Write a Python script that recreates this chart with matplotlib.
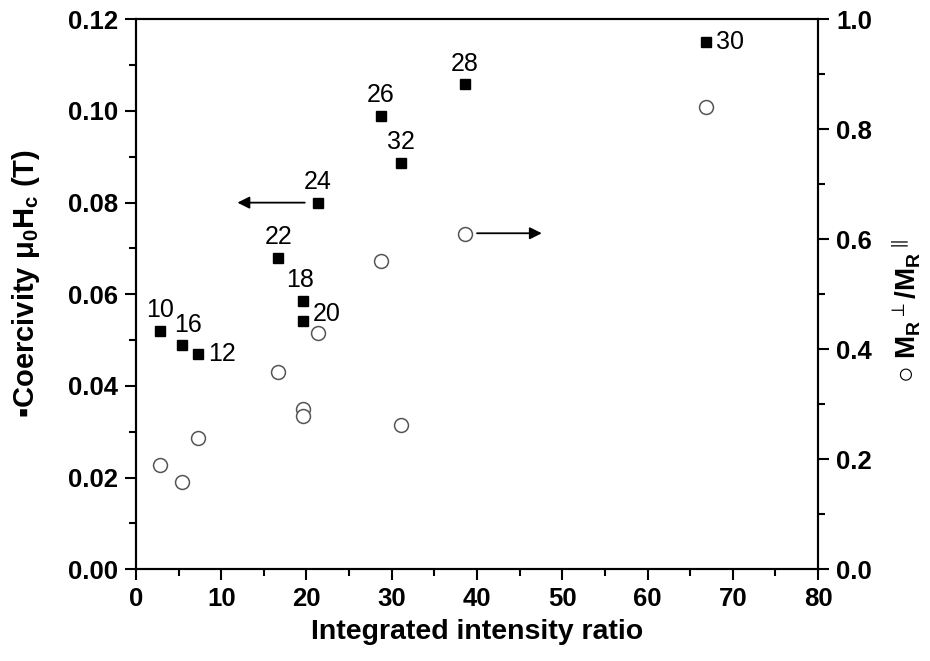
import matplotlib
matplotlib.use("Agg")
import matplotlib.pyplot as plt
from matplotlib.ticker import MultipleLocator

plt.rcParams['font.family'] = ['Liberation Sans', 'DejaVu Sans']
plt.rcParams['mathtext.default'] = 'regular'

# sample labels and integrated intensity ratio
samples = ['10', '16', '12', '22', '18', '20', '24', '26', '32', '28', '30']
ratio = [2.85, 5.4, 7.3, 16.7, 19.6, 19.6, 21.3, 28.7, 31.1, 38.6, 66.9]
# coercivity (T), left axis
hc = [0.052, 0.049, 0.047, 0.068, 0.0586, 0.0542, 0.080, 0.0989, 0.0887, 0.1058, 0.1151]
# remanence ratio, right axis
mr = [0.189, 0.159, 0.239, 0.359, 0.291, 0.279, 0.430, 0.560, 0.262, 0.610, 0.841]

# label offsets in points (dx, dy) for each sample number
label_dx = [0, 4, 17, 0, -2, 17, 0, 0, 0, 0, 17]
label_dy = [15, 14, 0, 15, 15, 5, 15, 15, 15, 15, 0]

fig = plt.figure(figsize=(9.3, 6.61), dpi=100)
ax = fig.add_axes([0.1462, 0.1387, 0.7334, 0.8321])
ax2 = ax.twinx()

ax.plot(ratio, hc, linestyle='none', marker='s', markersize=7.5,
        color='black', zorder=3)
ax2.plot(ratio, mr, linestyle='none', marker='o', markersize=10,
         markerfacecolor='white', markeredgecolor='#555555',
         markeredgewidth=1.1, zorder=3)

for s, x, y, dx, dy in zip(samples, ratio, hc, label_dx, label_dy):
    ax.annotate(s, (x, y), xytext=(dx, dy), textcoords='offset points',
                ha='center', va='center', fontsize=18)

# arrows pointing to the relevant axis
ax.annotate('', xy=(11.9, 0.080), xytext=(19.8, 0.080),
            arrowprops=dict(arrowstyle='-|>', color='black', lw=1.3,
                            mutation_scale=18, shrinkA=0, shrinkB=0))
ax2.annotate('', xy=(47.6, 0.611), xytext=(40.0, 0.611),
             arrowprops=dict(arrowstyle='-|>', color='black', lw=1.3,
                             mutation_scale=18, shrinkA=0, shrinkB=0))

ax.set_xlim(0, 80)
ax.set_ylim(0, 0.12)
ax2.set_ylim(0, 1.0)

ax.xaxis.set_major_locator(MultipleLocator(10))
ax.xaxis.set_minor_locator(MultipleLocator(5))
ax.yaxis.set_major_locator(MultipleLocator(0.02))
ax.yaxis.set_minor_locator(MultipleLocator(0.01))
ax2.yaxis.set_major_locator(MultipleLocator(0.2))
ax2.yaxis.set_minor_locator(MultipleLocator(0.1))
ax.yaxis.set_major_formatter(plt.FormatStrFormatter('%.2f'))
ax2.yaxis.set_major_formatter(plt.FormatStrFormatter('%.1f'))

for a in (ax, ax2):
    for sp in a.spines.values():
        sp.set_linewidth(1.5)
    a.tick_params(which='major', direction='out', length=8, width=1.5,
                  labelsize=18.5, pad=5)
    a.tick_params(which='minor', direction='out', length=5, width=1.5)
    for lbl in a.get_xticklabels() + a.get_yticklabels():
        lbl.set_fontweight('bold')

ax.set_xlabel('Integrated intensity ratio', fontsize=20.5, fontweight='bold')
ax.xaxis.set_label_coords(0.5, -0.09)
ax.set_ylabel('▪Coercivity μ$_0$H$_c$ (T)', fontsize=21, fontweight='bold')
ax.yaxis.set_label_coords(-0.138, 0.52)
ax2.set_ylabel('○ M$_R$$^{\\perp}$/M$_R$$^{\\parallel}$', fontsize=20,
               fontweight='bold', rotation=90, ha='center', va='center')
ax2.yaxis.set_label_coords(1.128, 0.47)

fig.savefig('out.png', dpi=100)
